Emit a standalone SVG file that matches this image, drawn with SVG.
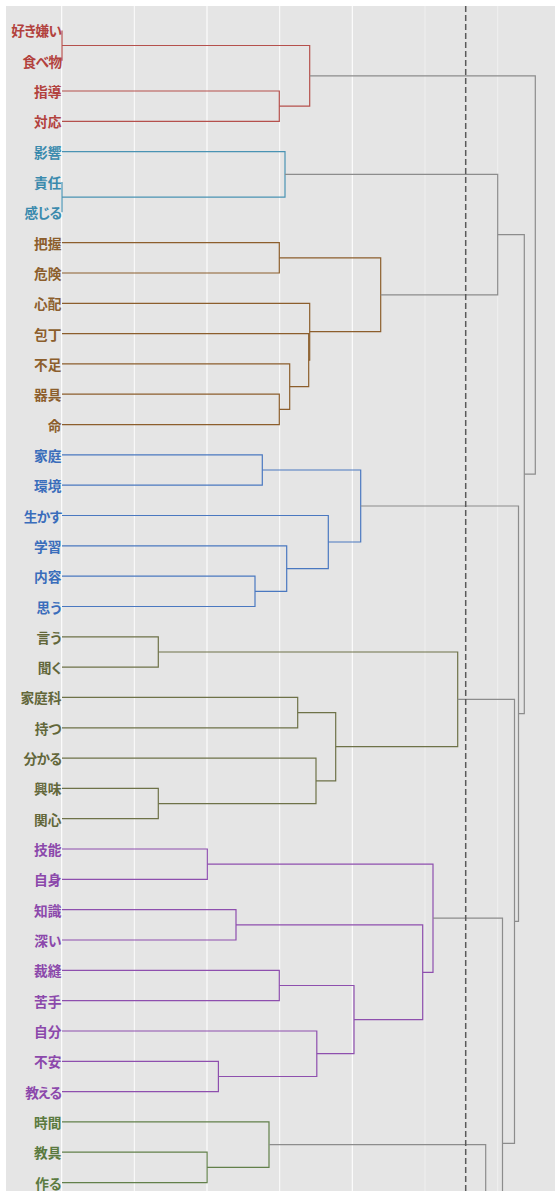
<svg xmlns="http://www.w3.org/2000/svg" width="555" height="1191" viewBox="0 0 555 1191">
<style>
.lbl{font-family:"Noto Sans CJK JP","Noto Sans CJK SC",sans-serif;font-size:13.7px;font-weight:700;text-anchor:end;font-feature-settings:"palt"}
.k{letter-spacing:-0.6px}
.red{fill:#B2413D}.teal{fill:#3A8AAD}.brown{fill:#8C5E2C}.blue{fill:#3A6DBB}.olive{fill:#62673A}.purple{fill:#8B48AB}.green{fill:#5A7A40}
.c{fill:none;stroke-width:1.2}
.cr{stroke:#B5504C}.ct{stroke:#4A93B3}.cb{stroke:#8C5E2C}.cbl{stroke:#4A78C0}.co{stroke:#6E7248}.cp{stroke:#8E4FAE}.cg{stroke:#62804A}.cgr{stroke:#8C8C8C}
.gmaj{stroke:#FFFFFF;stroke-width:1.1}
.gmin{stroke:#F2F2F2;stroke-width:0.8}
</style>
<rect x="0" y="0" width="555" height="1191" fill="#FFFFFF"/>
<rect x="6" y="6" width="549" height="1185" fill="#E5E5E5"/>
<g id="grid">
<line class="gmaj" x1="61.7" y1="6" x2="61.7" y2="1191"/>
<line class="gmaj" x1="134.3" y1="6" x2="134.3" y2="1191" style="stroke-width:0.9"/>
<line class="gmaj" x1="207" y1="6" x2="207" y2="1191"/>
<line class="gmaj" x1="279.7" y1="6" x2="279.7" y2="1191" style="stroke-width:0.9"/>
<line class="gmaj" x1="352.3" y1="6" x2="352.3" y2="1191"/>
<line class="gmin" x1="425" y1="6" x2="425" y2="1191"/>
<line class="gmin" x1="497.7" y1="6" x2="497.7" y2="1191"/>
</g>
<g id="connectors">
<path class="c cr" d="M62,30.4 V60.7"/>
<path class="c cr" d="M62,91 H279.3 V121.4 H62"/>
<path class="c cr" d="M62,45.5 H309.7 V106.2 H279.3"/>
<path class="c ct" d="M62,182 V212.3"/>
<path class="c ct" d="M62,151.7 H285 V197.2 H62"/>
<path class="c cb" d="M62,242.6 H279.3 V273 H62"/>
<path class="c cb" d="M62,394.2 H279.3 V424.6 H62"/>
<path class="c cb" d="M62,363.9 H289.7 V409.4 H279.3"/>
<path class="c cb" d="M62,333.6 H308.7 V386.6 H289.7"/>
<path class="c cb" d="M62,303.3 H309.7 V360.1 H308.7"/>
<path class="c cb" d="M279.3,257.8 H380.7 V331.7 H309.7"/>
<path class="c cbl" d="M62,454.9 H262.3 V485.2 H62"/>
<path class="c cbl" d="M62,576.2 H255 V606.5 H62"/>
<path class="c cbl" d="M62,545.8 H286.7 V591.3 H255"/>
<path class="c cbl" d="M62,515.5 H328.3 V568.6 H286.7"/>
<path class="c cbl" d="M262.3,470 H360.7 V542 H328.3"/>
<path class="c co" d="M62,636.8 H158.3 V667.1 H62"/>
<path class="c co" d="M62,697.4 H297.7 V727.8 H62"/>
<path class="c co" d="M62,788.4 H158.3 V818.7 H62"/>
<path class="c co" d="M62,758.1 H316 V803.6 H158.3"/>
<path class="c co" d="M297.7,712.6 H335.7 V780.8 H316"/>
<path class="c co" d="M158.3,652 H457.7 V746.7 H335.7"/>
<path class="c cp" d="M62,849 H207.3 V879.4 H62"/>
<path class="c cp" d="M62,909.7 H236 V940 H62"/>
<path class="c cp" d="M62,970.3 H279.3 V1000.6 H62"/>
<path class="c cp" d="M62,1061.3 H218.4 V1091.6 H62"/>
<path class="c cp" d="M62,1031 H316.8 V1076.5 H218.4"/>
<path class="c cp" d="M279.3,985.5 H354 V1053.7 H316.8"/>
<path class="c cp" d="M236,924.9 H422.7 V1019.6 H354"/>
<path class="c cp" d="M207.3,864.2 H433 V972.3 H422.7"/>
<path class="c cg" d="M62,1152.2 H207.1 V1182.6 H62"/>
<path class="c cg" d="M62,1121.9 H269 V1167.4 H207.1"/>
<path class="c cgr" d="M269,1144.6 H485.7 V1195"/>
<path class="c cgr" d="M433,918.2 H502.5 V1195"/>
<path class="c cgr" d="M457.7,699.3 H514.5 V1143.3 H502.5"/>
<path class="c cgr" d="M360.7,506 H518.5 V921.3 H514.5"/>
<path class="c cgr" d="M285,174.4 H497.7 V294.8 H380.7"/>
<path class="c cgr" d="M497.7,234.6 H524.3 V713.6 H518.5"/>
<path class="c cgr" d="M309.7,75.9 H535.3 V474.1 H524.3"/>
</g>
<line id="cutoff" x1="465.7" y1="6" x2="465.7" y2="1191" stroke="#5A5A5A" stroke-width="1.5" stroke-dasharray="6,3"/>
<g id="n0"><text class="lbl red k" x="61.5" y="36.4">好き嫌い</text></g>
<g id="n1"><text class="lbl red k" x="61.5" y="66.7">食べ物</text></g>
<g id="n2"><text class="lbl red" x="61.5" y="97">指導</text></g>
<g id="n3"><text class="lbl red" x="61.5" y="127.4">対応</text></g>
<g id="n4"><text class="lbl teal" x="61.5" y="157.7">影響</text></g>
<g id="n5"><text class="lbl teal" x="61.5" y="188">責任</text></g>
<g id="n6"><text class="lbl teal k" x="61.5" y="218.3">感じる</text></g>
<g id="n7"><text class="lbl brown" x="61.5" y="248.6">把握</text></g>
<g id="n8"><text class="lbl brown" x="61.5" y="279">危険</text></g>
<g id="n9"><text class="lbl brown" x="61.5" y="309.3">心配</text></g>
<g id="n10"><text class="lbl brown" x="61.5" y="339.6">包丁</text></g>
<g id="n11"><text class="lbl brown" x="61.5" y="369.9">不足</text></g>
<g id="n12"><text class="lbl brown" x="61.5" y="400.2">器具</text></g>
<g id="n13"><text class="lbl brown" x="61.5" y="430.6">命</text></g>
<g id="n14"><text class="lbl blue" x="61.5" y="460.9">家庭</text></g>
<g id="n15"><text class="lbl blue" x="61.5" y="491.2">環境</text></g>
<g id="n16"><text class="lbl blue k" x="61.5" y="521.5">生かす</text></g>
<g id="n17"><text class="lbl blue" x="61.5" y="551.8">学習</text></g>
<g id="n18"><text class="lbl blue" x="61.5" y="582.2">内容</text></g>
<g id="n19"><text class="lbl blue" x="61.5" y="612.5">思う</text></g>
<g id="n20"><text class="lbl olive" x="61.5" y="642.8">言う</text></g>
<g id="n21"><text class="lbl olive" x="61.5" y="673.1">聞く</text></g>
<g id="n22"><text class="lbl olive" x="61.5" y="703.4">家庭科</text></g>
<g id="n23"><text class="lbl olive" x="61.5" y="733.8">持つ</text></g>
<g id="n24"><text class="lbl olive k" x="61.5" y="764.1">分かる</text></g>
<g id="n25"><text class="lbl olive" x="61.5" y="794.4">興味</text></g>
<g id="n26"><text class="lbl olive" x="61.5" y="824.7">関心</text></g>
<g id="n27"><text class="lbl purple" x="61.5" y="855">技能</text></g>
<g id="n28"><text class="lbl purple" x="61.5" y="885.4">自身</text></g>
<g id="n29"><text class="lbl purple" x="61.5" y="915.7">知識</text></g>
<g id="n30"><text class="lbl purple" x="61.5" y="946">深い</text></g>
<g id="n31"><text class="lbl purple" x="61.5" y="976.3">裁縫</text></g>
<g id="n32"><text class="lbl purple" x="61.5" y="1006.6">苦手</text></g>
<g id="n33"><text class="lbl purple" x="61.5" y="1037">自分</text></g>
<g id="n34"><text class="lbl purple" x="61.5" y="1067.3">不安</text></g>
<g id="n35"><text class="lbl purple k" x="61.5" y="1097.6">教える</text></g>
<g id="n36"><text class="lbl green" x="61.5" y="1127.9">時間</text></g>
<g id="n37"><text class="lbl green" x="61.5" y="1158.2">教具</text></g>
<g id="n38"><text class="lbl green" x="61.5" y="1188.6">作る</text></g>
</svg>
